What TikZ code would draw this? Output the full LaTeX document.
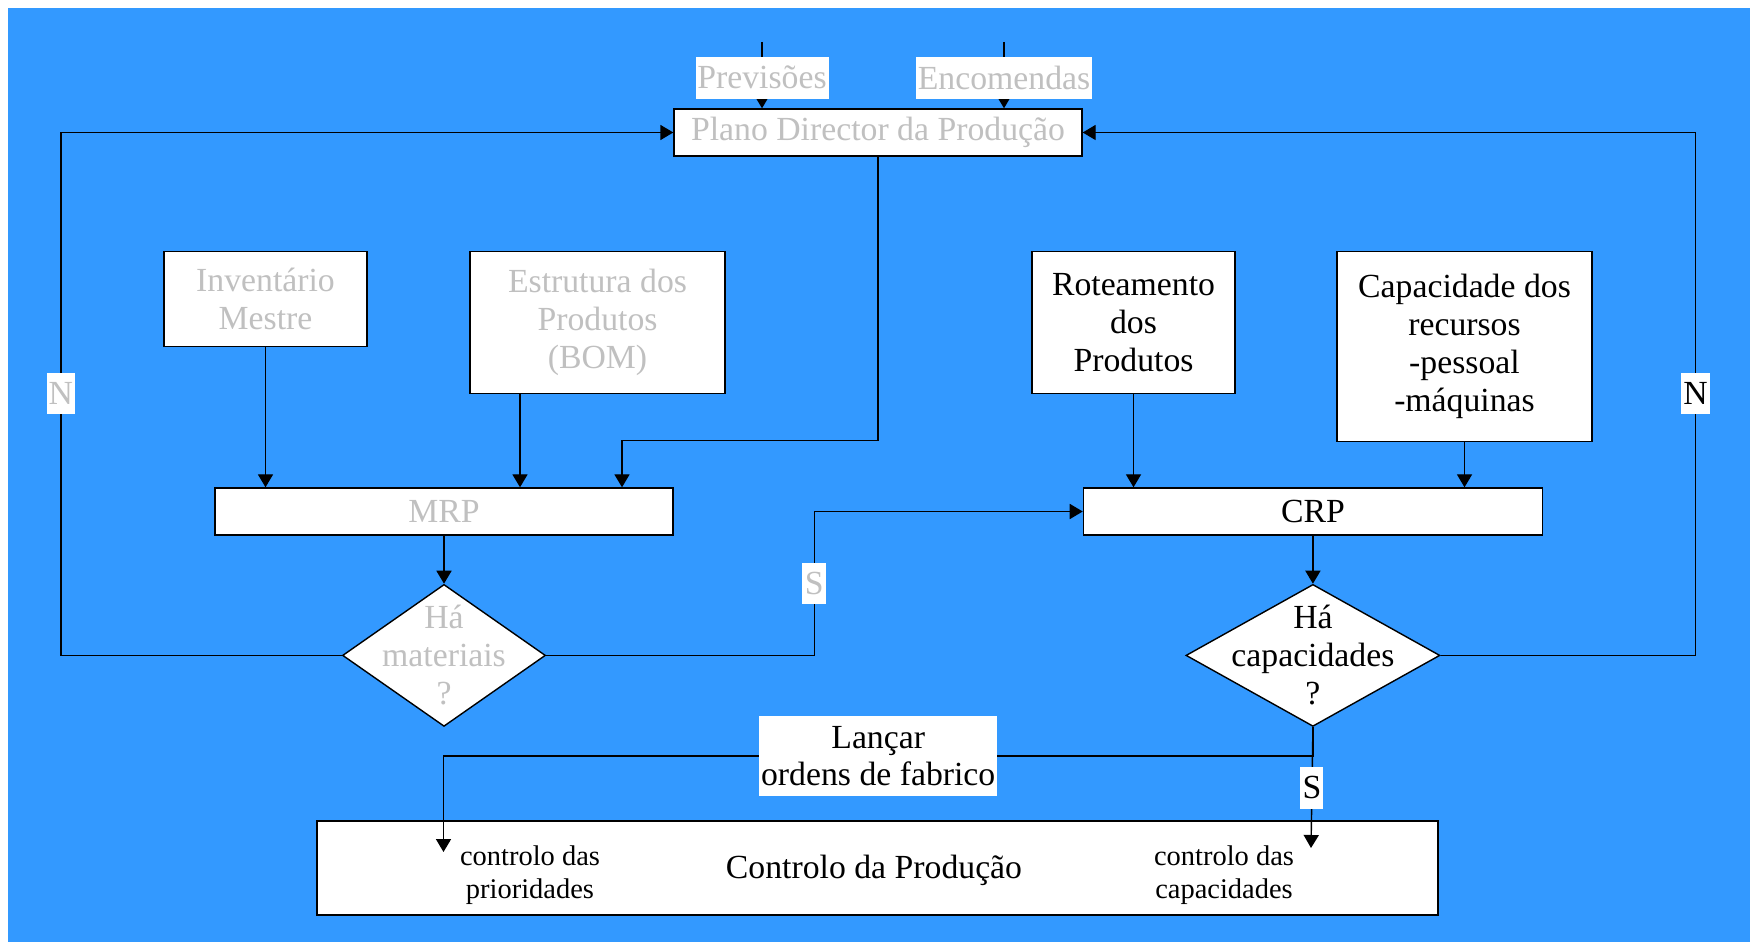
\documentclass[tikz,border=0pt]{standalone}
\usepackage{fontspec}
\setmainfont{Liberation Serif}
\usetikzlibrary{positioning,shapes.geometric,arrows.meta,calc}
\definecolor{bgblue}{RGB}{51,153,255}
\definecolor{greytxt}{RGB}{192,192,192}
\tikzset{font=\fontsize{9.6}{10.8}\selectfont}
\tikzset{
block/.style = {draw, fill=white, align=center, rectangle, inner sep=0pt},
decision/.style = {draw, fill=white, diamond, inner sep=0pt},
tag/.style = {fill=white, align=center, inner sep=0pt},
faded/.style = {text=greytxt},
small/.style = {align=center, font=\fontsize{8.1}{9.2}\selectfont}
}

\begin{document}
\begin{tikzpicture}[>={Triangle[length=3.7pt,width=4.3pt]}, line width=0.4pt]

	\useasboundingbox (0,0) rectangle (17.5,-9.42);
	\fill[white] (0,0) rectangle (17.5,-9.42);
	\fill[bgblue] (0.08,-0.08) rectangle (17.5,-9.42);

	\node[block, faded, minimum width=4.08cm, minimum height=0.47cm] (pdp) at (8.78,-1.325) {\raisebox{-0.6pt}{Plano Director da Produção}};
	\coordinate (prevtop) at (7.62,-0.42);
	\coordinate (enctop) at (10.04,-0.42);

	\node[block, faded, anchor=north, minimum width=2.03cm, minimum height=0.95cm] (inv) at (2.655,-2.51) {Inventário\\Mestre};
	\node[block, faded, anchor=north, minimum width=2.55cm, minimum height=1.42cm] (bom) at (5.975,-2.51) {Estrutura dos\\Produtos\\(BOM)};
	\node[block, anchor=north, minimum width=2.03cm, minimum height=1.42cm] (rot) at (11.335,-2.51) {Roteamento\\dos\\Produtos};
	\node[block, anchor=north, minimum width=2.55cm, minimum height=1.90cm] (cap) at (14.645,-2.51) {Capacidade dos\\recursos\\-pessoal\\-máquinas};

	\node[block, faded, minimum width=4.58cm, minimum height=0.47cm] (mrp) at (4.44,-5.115) {MRP};
	\node[block, right=4.09cm of mrp, minimum width=4.59cm, minimum height=0.47cm] (crp) {CRP};

	\node[decision, below=0.48cm of mrp, minimum width=2.03cm, minimum height=1.42cm] (mat) {};
	\node[faded, align=center] (mattxt) at (mat) {Há\\materiais\\?};
	\node[decision, below=0.48cm of crp, minimum width=2.54cm, minimum height=1.42cm] (capq) {};
	\node[align=center] (capqtxt) at (capq) {Há\\capacidades\\?};

	\node[block, minimum width=11.21cm, minimum height=0.94cm] (ctrl) at (8.775,-8.68) {};
	\node (ctrltxt) at (8.74,-8.70) {Controlo da Produção};
	\node[small] (prio) at (5.30,-8.75) {controlo das\\prioridades};
	\node[small] (capac) at (12.24,-8.75) {controlo das\\capacidades};
	\coordinate (prioin) at (4.435,-8.52);
	\coordinate (capin) at (13.11,-8.48);
	\coordinate (pdpin) at ($(mrp.north)+(1.78,0)$);

	\draw[->] (prevtop) -- node[tag, faded, pos=0.54, minimum width=1.33cm, minimum height=0.42cm]{Previsões} (prevtop |- pdp.north);
	\draw[->] (enctop) -- node[tag, faded, pos=0.54, minimum width=1.76cm, minimum height=0.42cm]{Encomendas} (enctop |- pdp.north);
	\draw[->] (mat.west) -- ++(-2.81,0) |- node[tag, faded, pos=0.25, minimum width=0.28cm, minimum height=0.41cm]{N} (pdp.west);
	\draw[->] (capq.east) -- ++(2.55,0) |- node[tag, pos=0.25, minimum width=0.29cm, minimum height=0.41cm]{N} (pdp.east);
	\draw[->] (pdp.south) |- ($(pdpin)+(0,0.47)$) -- (pdpin);
	\draw[->] (inv.south) -- (inv.south |- mrp.north);
	\draw[->] ([xshift=-0.775cm]bom.south) -- ([xshift=-0.775cm]bom.south |- mrp.north);
	\draw[->] (rot.south) -- (rot.south |- crp.north);
	\draw[->] (cap.south) -- (cap.south |- crp.north);
	\draw[->] (mrp.south) -- (mat.north);
	\draw[->] (crp.south) -- (capq.north);
	\draw[->] (mat.east) -- ++(2.68,0) |- node[tag, faded, pos=0.25, minimum width=0.24cm, minimum height=0.41cm]{S} (crp.west);
	\draw[->] (capq.south) -- ++(0,-0.29) -| node[tag, pos=0.25, minimum width=2.38cm, minimum height=0.8cm]{Lançar\\ordens de fabrico} (prioin);
	\draw[->] (capq.south) -- node[tag, minimum width=0.23cm, minimum height=0.42cm]{S} (capin);

\end{tikzpicture}
\end{document}
